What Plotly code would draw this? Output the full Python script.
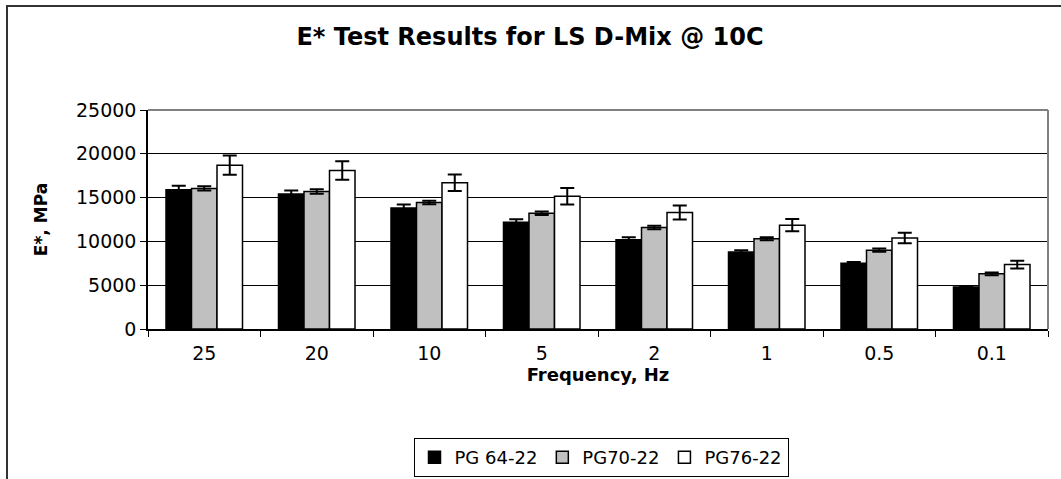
import plotly.graph_objects as go

# Frequencies (Hz) shown as categories
frequencies = ["25", "20", "10", "5", "2", "1", "0.5", "0.1"]

# Dynamic modulus E* (MPa) per binder grade, with error-bar half-widths
pg64_22 = [15900, 15400, 13800, 12200, 10200, 8800, 7500, 4800]
pg64_22_err = [450, 420, 400, 330, 270, 200, 150, 100]

pg70_22 = [16050, 15700, 14450, 13200, 11600, 10300, 9000, 6300]
pg70_22_err = [250, 250, 200, 200, 200, 180, 180, 150]

pg76_22 = [18700, 18100, 16700, 15150, 13300, 11850, 10400, 7350]
pg76_22_err = [1100, 1050, 950, 950, 800, 700, 600, 450]

y_ticks = [0, 5000, 10000, 15000, 20000, 25000]

series = [
    ("PG 64-22", pg64_22, pg64_22_err, "#000000"),
    ("PG70-22", pg70_22, pg70_22_err, "#C0C0C0"),
    ("PG76-22", pg76_22, pg76_22_err, "#FFFFFF"),
]

fig = go.Figure()
for name, vals, errs, color in series:
    fig.add_trace(go.Bar(
        name=name,
        x=frequencies,
        y=vals,
        marker=dict(color=color, line=dict(color="#000000", width=1.5)),
        error_y=dict(type="data", array=errs, visible=True,
                     color="#000000", thickness=2, width=7),
    ))

W, H = 1061, 479
L, R, T, B = 148, 1048, 110, 329
pw, ph = R - L, B - T
FONT = "DejaVu Sans, Arial, sans-serif"


def px(x):
    return (x - L) / pw


def py(y):
    return (B - y) / ph


shapes = [
    # outer chart frame
    dict(type="rect", xref="paper", yref="paper",
         x0=px(7), x1=px(1075), y0=py(490), y1=py(6),
         line=dict(color="#333333", width=2), fillcolor="rgba(0,0,0,0)",
         layer="below"),
    # plot-area frame (top and right edges)
    dict(type="line", xref="paper", yref="paper", x0=0, x1=1, y0=1, y1=1,
         line=dict(color="#808080", width=2), layer="above"),
    dict(type="line", xref="paper", yref="paper", x0=1, x1=1, y0=0, y1=1,
         line=dict(color="#808080", width=2), layer="above"),
]

fig.update_layout(
    width=W, height=H,
    margin=dict(l=L, r=W - R, t=T, b=H - B, pad=0, autoexpand=False),
    paper_bgcolor="#FFFFFF",
    plot_bgcolor="#FFFFFF",
    font=dict(family=FONT, size=19, color="#000000"),
    barmode="group",
    bargap=0.32,
    bargroupgap=0,
    title=dict(text="<b>E* Test Results for LS D-Mix @ 10C</b>",
               x=px(530), xanchor="center", xref="paper",
               y=1 - 37 / H, yanchor="middle",
               font=dict(size=24, color="#000000")),
    xaxis=dict(
        type="category",
        showline=True, linecolor="#000000", linewidth=1.5,
        ticks="outside", tickson="boundaries", ticklen=6, tickcolor="#000000",
        showgrid=False,
        tickfont=dict(size=19),
        ticklabelstandoff=6,
        title=dict(text="<b>Frequency, Hz</b>", font=dict(size=18, color="#000000"),
                   standoff=6),
    ),
    yaxis=dict(
        range=[0, 25000],
        tickvals=y_ticks,
        ticktext=[str(v) for v in y_ticks],
        showline=True, linecolor="#000000", linewidth=1.5,
        ticks="outside", ticklen=6, tickcolor="#000000",
        showgrid=True, gridcolor="#000000", gridwidth=1,
        zeroline=False,
        tickfont=dict(size=19),
        title=dict(text="<b>E*, MPa</b>", font=dict(size=17, color="#000000"),
                   standoff=24),
    ),
    legend=dict(
        orientation="h",
        x=601 / W, xanchor="center", xref="container",
        y=1 - 438 / H, yanchor="top", yref="container",
        bordercolor="#000000", borderwidth=1,
        bgcolor="#FFFFFF",
        font=dict(size=18, color="#000000"),
        itemwidth=30,
        tracegroupgap=0,
    ),
    shapes=shapes,
    showlegend=True,
)

fig.write_html("out.html")
